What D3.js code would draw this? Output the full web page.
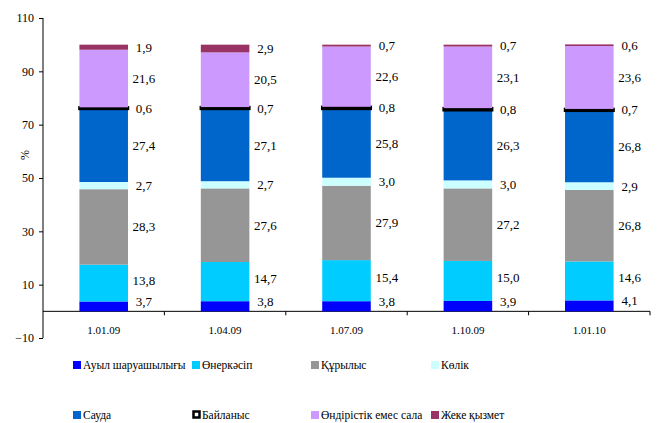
<!DOCTYPE html>
<html><head><meta charset="utf-8">
<script src="https://cdn.jsdelivr.net/npm/d3@7/dist/d3.min.js"></script>
<style>body{margin:0;background:#fff}svg{display:block}text{font-family:'Liberation Serif',serif;fill:#000}</style>
</head><body><svg id="c" width="661" height="423"></svg>
<script>
const categories = ["1.01.09","1.04.09","1.07.09","1.10.09","1.01.10"];
const seriesNames = ["Ауыл шаруашылығы","Өнеркәсіп","Құрылыс","Көлік","Сауда","Байланыс","Өндірістік емес сала","Жеке қызмет"];
const agriculture = [3.7,3.8,3.8,3.9,4.1];
const industry = [13.8,14.7,15.4,15.0,14.6];
const construction = [28.3,27.6,27.9,27.2,26.8];
const transport = [2.7,2.7,3.0,3.0,2.9];
const trade = [27.4,27.1,25.8,26.3,26.8];
const communication = [0.6,0.7,0.8,0.8,0.7];
const nonProduction = [21.6,20.5,22.6,23.1,23.6];
const privateService = [1.9,2.9,0.7,0.7,0.6];
const yTicks = [-10,10,30,50,70,90,110];

const seriesValues = [agriculture,industry,construction,transport,trade,communication,nonProduction,privateService];
const colors = ["#0000FF","#00CCFF","#969696","#CCFFFF","#0066CC","#FFFFFF","#CC99FF","#993366"];

const svg = d3.select("#c");
const x = d3.scaleBand().domain(categories).range([43,650]).paddingInner(0).paddingOuter(0);
const y = d3.scaleLinear().domain([-10,110]).range([338,18]);
const bw = x.bandwidth()*0.4;

// y axis
const ya = svg.append("g").attr("transform","translate(43,0)")
  .call(d3.axisLeft(y).tickValues(yTicks).tickSize(4).tickPadding(5));
ya.attr("font-size",null).attr("font-family",null);
ya.selectAll("text").style("font-size","12px");
ya.select(".domain").attr("d","M0,"+y(110)+"V"+y(-10));

// x axis at 0
const xa = svg.append("g").attr("transform","translate(0,"+y(0)+")");
xa.append("line").attr("x1",43).attr("x2",650).attr("stroke","#000");
const bounds = categories.map(c=>x(c)+x.bandwidth());
xa.selectAll("line.t").data(bounds).join("line").attr("class","t")
  .attr("x1",d=>d).attr("x2",d=>d).attr("y1",0).attr("y2",4).attr("stroke","#000");

svg.selectAll("text.cat").data(categories).join("text").attr("class","cat")
  .attr("x",d=>x(d)+x.bandwidth()/2).attr("y",330).attr("dy","0.35em").attr("text-anchor","middle")
  .style("font-size","11px").text(d=>d);

svg.append("text").attr("transform","translate(25,155) rotate(-90)").attr("dy","0.35em").attr("text-anchor","middle")
  .style("font-size","12px").text("%");

// stacks
const table = categories.map((c,i)=>{const o={cat:c}; seriesNames.forEach((s,j)=>o[s]=seriesValues[j][i]); return o;});
const stack = d3.stack().keys(seriesNames)(table);
stack.forEach((layer,j)=>{
  const g = svg.append("g");
  g.selectAll("rect").data(layer).join("rect")
    .attr("x",d=>x(d.data.cat)+(x.bandwidth()-bw)/2)
    .attr("width",bw)
    .attr("y",d=>y(d[1]))
    .attr("height",d=>y(d[0])-y(d[1]))
    .attr("fill",colors[j])
    .attr("stroke",j===5?"#000":"none")
    .attr("stroke-width",j===5?2.5:0);
  g.selectAll("text").data(layer).join("text")
    .attr("x",d=>x(d.data.cat)+(x.bandwidth()+bw)/2+16)
    .attr("y",d=>(y(d[0])+y(d[1]))/2 - (j===0?5:(j===1?3:0)))
    .attr("dy","0.35em")
    .attr("text-anchor","middle").style("font-size","13px")
    .text(d=>d3.format(".1f")(d[1]-d[0]).replace(".",","));
});

// legend
const lx = [73,192,311,431];
const ly = [366,416];
seriesNames.forEach((s,j)=>{
  const cx = lx[j%4], cy = ly[Math.floor(j/4)];
  const g = svg.append("g");
  if(j===5){
    g.append("rect").attr("x",cx+1.5).attr("y",cy-4.5).attr("width",6).attr("height",6).attr("fill","#fff").attr("stroke","#000").attr("stroke-width",2.5);
  } else {
    g.append("rect").attr("x",cx).attr("y",cy-5).attr("width",8).attr("height",8).attr("fill",colors[j]);
  }
  g.append("text").attr("x",cx+10).attr("y",cy-1).attr("dy","0.35em").style("font-size","11.5px").text(s);
});
</script></body></html>
